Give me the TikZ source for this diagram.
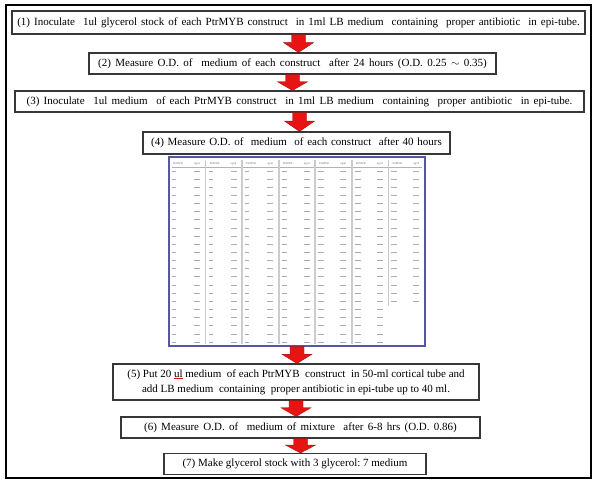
\documentclass[tikz,border=0pt]{standalone}
\usepackage{fontspec}
\setmainfont{Liberation Serif}
\usetikzlibrary{calc}

\definecolor{arrowred}{RGB}{232,20,20}
\definecolor{tblblue}{RGB}{85,85,170}
\definecolor{boxline}{RGB}{55,55,55}

\tikzset{
  stepbox/.style={draw=boxline, line width=1.1pt, fill=white, inner sep=0pt,
    align=center, font=\fontsize{11}{15}\selectfont},
  spread/.style={execute at begin node={\spaceskip=#1\relax}},
  redarrow/.style={fill=arrowred, draw=arrowred!70!black, line width=0.4pt},
  sepline/.style={draw=gray!40, line width=1.6pt},
  cellmark/.style={draw=gray!65, line width=1pt},
  headtext/.style={font=\fontsize{2.8}{3}\selectfont, inner sep=0pt, text=gray!80!black},
}

% fat red arrow from the bottom of one box to the top of the next
\newcommand{\flowarrow}[2]{%
  \path[redarrow] let \p1=(#1.south), \p2=(#2.north),
      \p3=($(#1.south)!0.45!(#2.north)$) in
    (\x1-7pt,\y1) -- (\x1+7pt,\y1) -- (\x1+7pt,\y3) -- (\x1+15pt,\y3)
    -- (\x1,\y2) -- (\x1-15pt,\y3) -- (\x1-7pt,\y3) -- cycle;}

\newcommand{\redul}[1]{{\color{red}$\underline{\hbox{\color{black}#1}}$}}

\begin{document}
\begin{tikzpicture}[x=1pt, y=-1pt]
  \useasboundingbox (0,0) rectangle (596,487);
  \draw[line width=2.8pt] (6,5) rectangle (591,478);

  \node[stepbox, spread=4pt, minimum width=573, minimum height=23] (s1) at (298.5,22.5)
    {(1) Inoculate\ \ 1ul glycerol stock of each PtrMYB construct\ \ in 1ml LB medium\ \ containing\ \ proper antibiotic\ \ in epi-tube.};
  \node[stepbox, spread=4.4pt, minimum width=407, minimum height=21] (s2) at (292.5,63.5)
    {(2) Measure O.D. of\ \ medium of each construct\ \ after 24 hours (O.D. 0.25 $\sim$ 0.35)};
  \node[stepbox, spread=4.3pt, minimum width=569, minimum height=21] (s3) at (299.5,101.5)
    {(3) Inoculate\ \ 1ul medium\ \ of each PtrMYB construct\ \ in 1ml LB medium\ \ containing\ \ proper antibiotic\ \ in epi-tube.};
  \node[stepbox, spread=3.7pt, minimum width=307, minimum height=22] (s4) at (296.5,143)
    {(4) Measure O.D.\ of\ \ medium\ \ of each construct\ \ after 40 hours};

  % O.D. table
  \node[draw=tblblue, line width=1.3pt, fill=white, minimum width=256, minimum height=189,
    inner sep=0pt] (tbl) at (297,251.5) {};
  \begin{scope}[shift={(169,157)}]
    \foreach \k in {0,...,6} {
      \node[headtext] at (\k*36.57+9,6.5) {PtrMYB};
      \node[headtext] at (\k*36.57+28,6.5) {ng/ul};
    }
    \draw[draw=gray!60, line width=0.6pt] (3,9.8) -- (253,9.8);
    \foreach \k in {1,...,5}
      \draw[sepline] (\k*36.57,2.5) -- (\k*36.57,187);
    \draw[sepline] (6*36.57,2.5) -- (6*36.57,149);
    \foreach \k/\len/\rows in {0/4/21,1/4/21,2/4/21,3/5/21,4/6/21,5/6/21,6/6/16} {
      \foreach \r in {0,...,\rows} {
        \draw[cellmark] (\k*36.57+3,14+\r*8.15) -- ++(\len,0);
        \draw[cellmark] (\k*36.57+25,14+\r*8.15) -- ++(6,0);
      }
    }
  \end{scope}

  \node[stepbox, minimum width=366, minimum height=36] (s5) at (296,382)
    {(5) Put 20 \redul{ul} medium\ \ of each PtrMYB\ \ construct\ \ in 50-ml cortical tube and\\
     add LB medium\ \ containing\ \ proper antibiotic in epi-tube up to 40 ml.};
  \node[stepbox, spread=4.3pt, minimum width=359, minimum height=21] (s6) at (300.5,427.5)
    {(6) Measure O.D. of\ \ medium of mixture\ \ after 6-8 hrs (O.D. 0.86)};
  \node[stepbox, minimum width=262, minimum height=21] (s7) at (295,464)
    {(7) Make glycerol stock with 3 glycerol:\ 7 medium};

  \flowarrow{s1}{s2}
  \flowarrow{s2}{s3}
  \flowarrow{s3}{s4}
  \flowarrow{tbl}{s5}
  \flowarrow{s5}{s6}
  \flowarrow{s6}{s7}
\end{tikzpicture}
\end{document}
